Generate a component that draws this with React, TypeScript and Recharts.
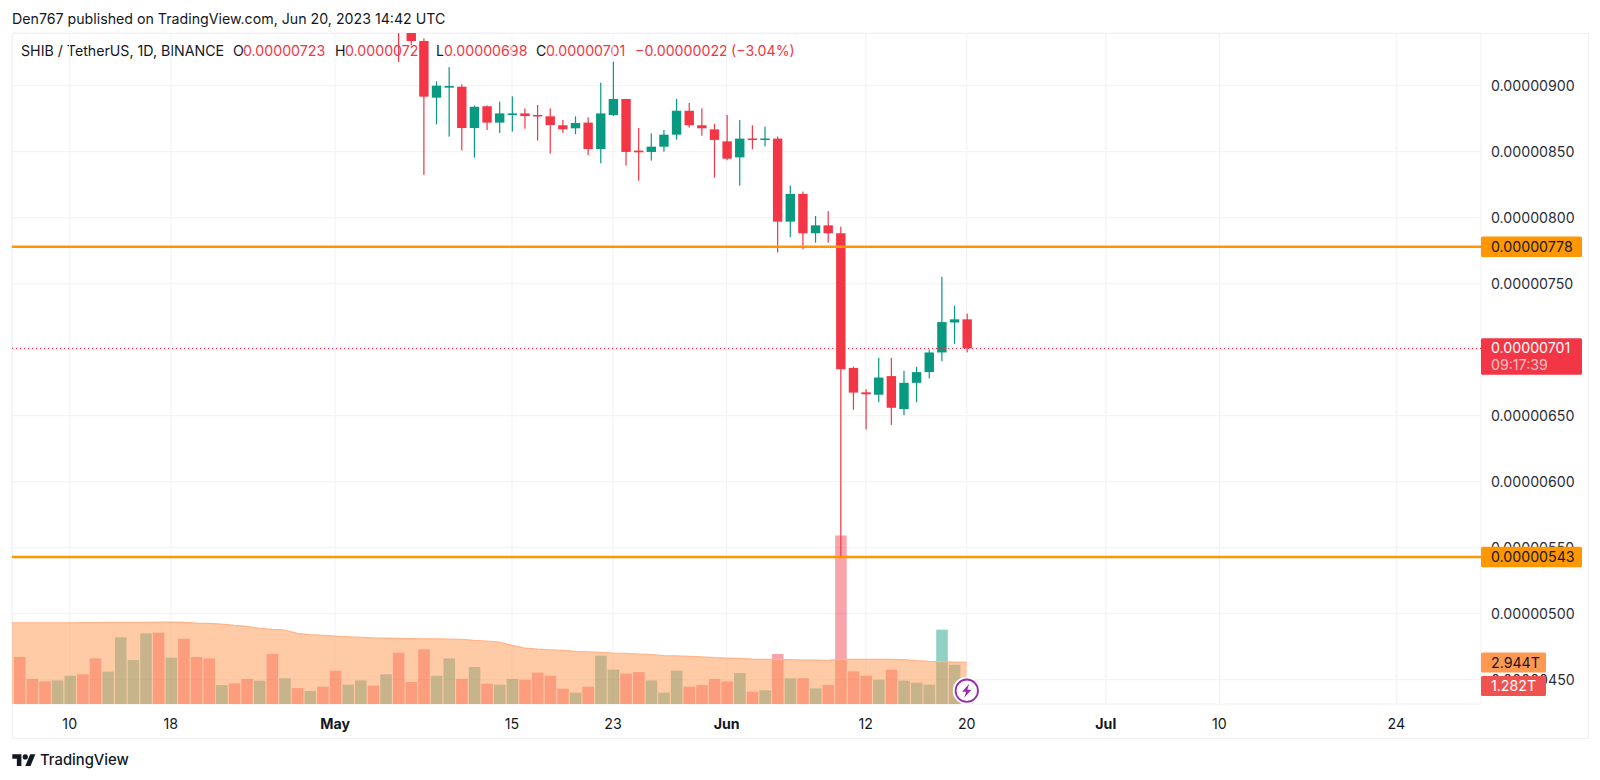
import React from "react";
import { ComposedChart, Bar, Area, XAxis, YAxis, CartesianGrid, ReferenceLine, ReferenceDot } from "recharts";

// Prices are in units of 1e-8, volumes in trillions. Day 0 = Apr 10 2023.
const FIRST_VOLUME_DAY = -4;
const FIRST_CANDLE_DAY = 26;
const LEFT_PADDING_DAY = -5;
const LAST_DAY = 71;

const opens = [960, 945, 933.8, 890.9, 898.5, 899.2, 867.9, 884.4, 872, 877.8, 879, 877.8, 876.8, 870, 867.7, 872, 852, 877.8, 889.9, 850.8, 849.8, 853.8, 862.9, 881, 870, 866.9, 857.8, 845.7, 860, 859, 859.9, 797, 818, 788.2, 794.2, 788.2, 686.2, 667.7, 665.9, 680, 655, 674.9, 683, 697.9, 720.6, 723];
const highs = [965, 950, 935.8, 903.3, 914, 901, 885, 885, 887.9, 891.9, 882.8, 885.4, 882.8, 874, 876.8, 876, 902.3, 918.2, 890, 868, 863.9, 866.4, 890, 886.9, 882.8, 871, 877.8, 874, 870, 869, 861.5, 824.3, 819.8, 801.3, 805, 793.2, 687.2, 670.1, 693.8, 693.8, 684, 687, 700, 755.2, 733.2, 727.3];
const lows = [918, 930.8, 832.4, 870.7, 861.4, 851, 845.5, 866.4, 864.2, 865.2, 867.4, 858.4, 848.5, 864.2, 863.2, 847.5, 841.2, 877, 839.4, 828, 843.2, 850, 859.1, 868.2, 862.1, 830.3, 843.5, 824.3, 851.8, 854, 773.6, 785.2, 776.1, 781.1, 781.1, 543, 654.5, 639.6, 660.2, 643, 650.4, 660.2, 678.2, 691.3, 704.4, 698];
const closes = [945, 933.8, 891.7, 900, 899.8, 867.9, 884, 872, 879, 879, 877, 876.8, 870.2, 867, 871.7, 852, 879, 889.9, 849.8, 849.5, 853.8, 862.9, 881, 870, 867.7, 858.9, 844.7, 859.9, 859, 860, 797, 818, 788.2, 794.2, 788.2, 685.2, 667.5, 666.2, 678.9, 656, 674.9, 683, 697.9, 720.9, 723, 701];

const volumes = [3.33, 1.77, 1.6, 1.67, 2, 2.1, 3.23, 2.29, 4.72, 3.11, 5, 5.05, 3.28, 4.62, 3.33, 3.23, 1.34, 1.46, 1.77, 1.65, 3.54, 1.82, 1.13, 0.92, 1.23, 2.36, 1.37, 1.67, 1.3, 2.1, 3.63, 1.56, 3.87, 2, 3.23, 1.77, 2.62, 1.44, 1.37, 1.77, 1.72, 2.22, 2, 1.08, 0.8, 1.23, 3.42, 2.43, 2.15, 2.26, 1.67, 0.8, 2.36, 1.23, 1.34, 1.77, 1.6, 2.19, 0.87, 0.97, 3.54, 1.82, 1.82, 1.11, 1.34, 11.93, 2.31, 2, 1.72, 2.43, 1.65, 1.51, 1.37, 5.26, 2.78, 1.282];
const volumeUp = [0, 0, 0, 1, 1, 0, 0, 1, 1, 1, 1, 0, 1, 0, 0, 0, 1, 0, 0, 1, 0, 1, 0, 1, 0, 0, 1, 1, 0, 1, 0, 0, 0, 1, 1, 0, 1, 0, 1, 1, 0, 0, 0, 0, 1, 0, 1, 1, 0, 0, 1, 1, 1, 0, 0, 0, 0, 1, 0, 1, 0, 1, 0, 1, 0, 0, 0, 0, 1, 0, 1, 1, 1, 1, 1, 0];
const volumeMa = [5.75, 5.75, 5.75, 5.75, 5.75, 5.75, 5.76, 5.77, 5.78, 5.78, 5.78, 5.78, 5.79, 5.8, 5.78, 5.73, 5.71, 5.66, 5.57, 5.5, 5.35, 5.28, 5.24, 5, 4.91, 4.86, 4.81, 4.76, 4.72, 4.68, 4.67, 4.65, 4.63, 4.62, 4.61, 4.6, 4.58, 4.5, 4.46, 4.39, 4.15, 3.96, 3.89, 3.84, 3.8, 3.73, 3.7, 3.66, 3.61, 3.58, 3.54, 3.49, 3.42, 3.4, 3.37, 3.33, 3.28, 3.25, 3.23, 3.18, 3.16, 3.14, 3.14, 3.11, 3.11, 3.09, 3.16, 3.16, 3.16, 3.16, 3.16, 3.14, 3.07, 3.02, 3, 2.97, 2.944];

const xTickDays = [0, 8, 21, 35, 43, 52, 63, 71, 82, 91, 105];
const xTickLabels = ["10", "18", "May", "15", "23", "Jun", "12", "20", "Jul", "10", "24"];
const boldTicks = ["May", "Jun", "Jul"];
const priceTicks = [450, 500, 550, 600, 650, 700, 750, 800, 850, 900];
const levels = [778, 543];
const lastPrice = 701;
const lastVolume = 1.282;
const volumeMaLast = 2.944;

const titleText = "Den767 published on TradingView.com, Jun 20, 2023 14:42 UTC";
const legendDark = [
  { t: "SHIB / TetherUS, 1D, BINANCE", x: 21 },
  { t: "O", x: 233 },
  { t: "H", x: 335 },
  { t: "L", x: 436 },
  { t: "C", x: 536 },
];
const legendRed = [
  { t: "0.00000723", x: 243 },
  { t: "0.00000727", x: 345 },
  { t: "0.00000698", x: 444 },
  { t: "0.00000701", x: 546 },
  { t: "−0.00000022", x: 635 },
  { t: "(−3.04%)", x: 731 },
];

const RED = "#F23645";
const GREEN = "#089981";
const ORANGE = "#FF9800";
const TEXT = "#131722";
const AXIS_TEXT = "#2A2E39";
const GRID = "#F3F4F7";
const FONT = "Inter, sans-serif";
const FONT_SIZE = 14.2;

const tableDays: number[] = [];
for (let d = LEFT_PADDING_DAY; d <= LAST_DAY; d++) tableDays.push(d);
const table = tableDays.map((day) => {
  const ci = day - FIRST_CANDLE_DAY;
  const vi = day - FIRST_VOLUME_DAY;
  const hasCandle = ci >= 0;
  const hasVol = vi >= 0;
  return {
    day,
    ma: volumeMa[day - LEFT_PADDING_DAY],
    vol: hasVol ? volumes[vi] : null,
    up: hasVol ? volumeUp[vi] === 1 : false,
    open: hasCandle ? opens[ci] : null,
    high: hasCandle ? highs[ci] : null,
    low: hasCandle ? lows[ci] : null,
    close: hasCandle ? closes[ci] : null,
    range: hasCandle ? [lows[ci], highs[ci]] : null,
  };
});

const Candle = (p: any) => {
  const d = p.payload;
  if (!d || d.high == null || !p.height) return null;
  const k = p.height / (d.high - d.low);
  const at = (v: number) => p.y + (d.high - v) * k;
  const color = d.close >= d.open ? GREEN : RED;
  const top = at(Math.max(d.open, d.close));
  const bottom = at(Math.min(d.open, d.close));
  const cx = p.x + p.width / 2;
  return (
    <g>
      <rect x={cx - 0.6} y={p.y} width={1.2} height={p.height} fill={color} />
      <rect x={p.x} y={top} width={p.width} height={Math.max(bottom - top, 1.5)} fill={color} />
    </g>
  );
};

const VolumeBar = (p: any) => {
  if (!p.payload || p.payload.vol == null) return null;
  return <rect x={p.x} y={p.y} width={p.width} height={p.height} fill={p.payload.up ? GREEN : RED} fillOpacity={0.45} />;
};

const formatPrice = (v: number) => (v * 1e-8).toFixed(8);

const XTick = (p: any) => {
  const label = xTickLabels[xTickDays.indexOf(p.payload.value)];
  return (
    <text x={p.x} y={723} textAnchor="middle" dominantBaseline="central" fontFamily={FONT} fontSize={FONT_SIZE} fontWeight={boldTicks.includes(label) ? 700 : 400} fill={TEXT}>
      {label}
    </text>
  );
};

const Tag = ({ viewBox, lines, fill, w, h, dy = 0, textFill = TEXT, second }: any) => {
  const left = viewBox.x + viewBox.width;
  const cy = viewBox.y + dy;
  return (
    <g>
      <rect x={left} y={cy - h / 2} width={w} height={h} rx={1.5} fill={fill} />
      <text x={left + 10} y={second ? cy - 8.6 : cy} dominantBaseline="central" fontFamily={FONT} fontSize={FONT_SIZE} fill={textFill}>
        {lines}
      </text>
      {second ? (
        <text x={left + 10} y={cy + 8.4} dominantBaseline="central" fontFamily={FONT} fontSize={FONT_SIZE} fill="#FBC3C8">
          {second}
        </text>
      ) : null}
    </g>
  );
};

const BoltIcon = (p: any) => (
  <g transform={`translate(${p.cx},${p.cy})`}>
    <circle r={14} fill="#fff" />
    <circle r={11.2} fill="#fff" stroke="#9C27B0" strokeWidth={1.8} />
    <path d="M2.4,-7 L-4.6,1 L-0.6,1 L-2.6,7 L4.6,-1 L0.6,-1 Z" fill="#9C27B0" />
  </g>
);

const chartMargin = { top: 33, right: 0, bottom: 42, left: 12 };
const overlayMargin = { top: 33, right: 119, bottom: 76, left: 12 };

export default function App() {
  return (
    <div style={{ position: "absolute", left: 0, top: 0, width: 1600, height: 780, background: "#fff", fontFamily: FONT, overflow: "hidden" }}>
      <div style={{ position: "absolute", left: 12, top: 10, fontSize: 14.2, color: TEXT, whiteSpace: "nowrap", lineHeight: "18px" }}>{titleText}</div>
      <div style={{ position: "absolute", left: 12, top: 33, width: 1575, height: 704, border: "1px solid #EEF0F4" }} />
      {legendDark.map((l) => (
        <span key={l.t} style={{ position: "absolute", left: l.x, top: 42, fontSize: FONT_SIZE, color: TEXT, lineHeight: "18px", whiteSpace: "nowrap" }}>{l.t}</span>
      ))}
      {legendRed.map((l) => (
        <span key={l.t} style={{ position: "absolute", left: l.x, top: 42, fontSize: FONT_SIZE, color: RED, lineHeight: "18px", whiteSpace: "nowrap" }}>{l.t}</span>
      ))}
      <div style={{ position: "absolute", left: 0, top: 0 }}>
        <ComposedChart width={1600} height={780} data={table} margin={chartMargin}>
          <XAxis xAxisId="main" dataKey="day" type="number" domain={[-4.57, 111.7]} allowDataOverflow ticks={xTickDays} tick={<XTick />} tickLine={false} axisLine={false} interval={0} height={34} />
          <YAxis yAxisId="price" orientation="right" type="number" domain={[431.6, 939.9]} allowDataOverflow ticks={priceTicks} tickFormatter={formatPrice} tick={{ fontFamily: FONT, fontSize: FONT_SIZE, fill: AXIS_TEXT, textAnchor: "start" }} tickLine={false} axisLine={false} interval={0} width={119} tickMargin={4} />
          <YAxis yAxisId="vol" orientation="right" type="number" domain={[0, 47.5]} allowDataOverflow hide />
          <CartesianGrid xAxisId="main" yAxisId="price" stroke={GRID} strokeWidth={1.2} />
          <Bar xAxisId="main" yAxisId="vol" dataKey="vol" barSize={11.6} shape={<VolumeBar />} isAnimationActive={false} />
        </ComposedChart>
      </div>
      <div style={{ position: "absolute", left: 0, top: 0 }}>
        <ComposedChart width={1600} height={780} data={table} margin={overlayMargin}>
          <XAxis xAxisId="main" dataKey="day" type="number" domain={[-4.57, 111.7]} allowDataOverflow hide />
          <YAxis yAxisId="price" type="number" domain={[431.6, 939.9]} allowDataOverflow hide />
          <YAxis yAxisId="vol" type="number" domain={[0, 47.5]} allowDataOverflow hide />
          <Area xAxisId="main" yAxisId="vol" dataKey="ma" type="linear" stroke="#FFB489" strokeWidth={1.2} fill="#FF9850" fillOpacity={0.5} dot={false} activeDot={false} isAnimationActive={false} />
          <Bar xAxisId="main" yAxisId="price" dataKey="range" barSize={9.4} shape={<Candle />} isAnimationActive={false} />
          <ReferenceLine xAxisId="main" yAxisId="price" y={lastPrice} stroke={RED} strokeWidth={1.2} strokeDasharray="1.2 2.8" label={<Tag lines="0.00000701" second="09:17:39" fill={RED} textFill="#fff" w={101} h={36.6} dy={8.2} />} />
          {levels.map((lv) => (
            <ReferenceLine key={lv} xAxisId="main" yAxisId="price" y={lv} stroke={ORANGE} strokeWidth={2.4} label={<Tag lines={formatPrice(lv)} fill={ORANGE} w={101} h={20.6} />} />
          ))}
          <ReferenceLine xAxisId="main" yAxisId="vol" y={volumeMaLast} stroke="transparent" label={<Tag lines="2.944T" fill="#FF9850" w={65} h={20} />} />
          <ReferenceLine xAxisId="main" yAxisId="vol" y={lastVolume} stroke="transparent" label={<Tag lines="1.282T" fill="#EF5350" textFill="#fff" w={65} h={20} />} />
          <ReferenceDot xAxisId="main" yAxisId="vol" x={LAST_DAY} y={0.94} r={12} shape={<BoltIcon />} />
        </ComposedChart>
      </div>
      <svg style={{ position: "absolute", left: 12, top: 753 }} width={24} height={13} viewBox="0 0 36 20">
        <path d="M14 20H7V9H0V2h14v18zM28 20h-8l7.5-18H35.5L28 20z" fill={TEXT} />
        <circle cx={20} cy={6} r={4} fill={TEXT} />
      </svg>
      <div style={{ position: "absolute", left: 40, top: 750, fontSize: 14.8, fontWeight: 500, color: TEXT, lineHeight: "20px" }}>TradingView</div>
    </div>
  );
}
